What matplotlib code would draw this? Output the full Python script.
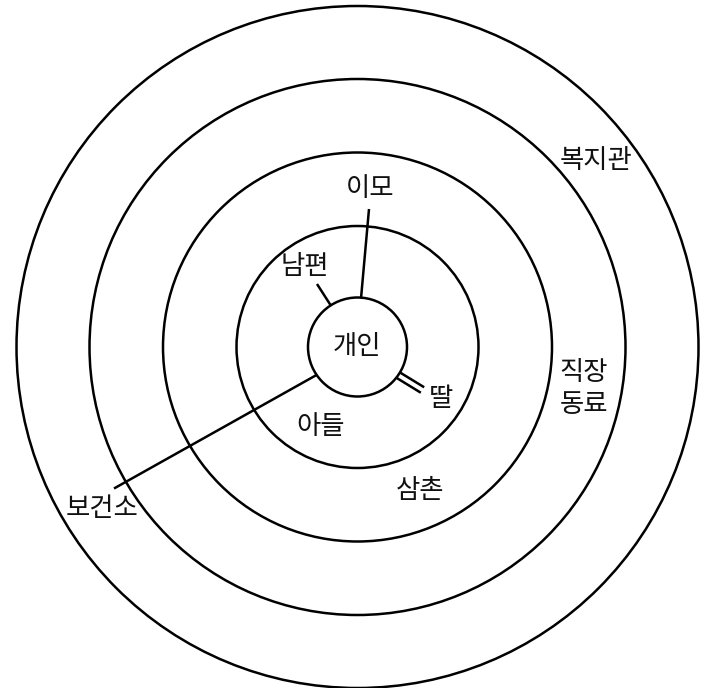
"""Ecomap: concentric relationship circles around the individual (개인)."""

import matplotlib.pyplot as plt
from matplotlib.patches import Circle
import numpy as np

plt.rcParams['font.family'] = ['Noto Sans CJK KR', 'DejaVu Sans']

# ring radii in pixels (innermost = 개인)
ring_radii = [49.5, 121, 194.5, 268, 341]
center = (357.5, 347)

labels = ["개인", "남편", "이모", "딸", "아들", "삼촌", "복지관", "직장", "동료", "보건소"]
label_xy = [(356.5, 347), (305, 266), (370.5, 189), (441, 398), (320.5, 426),
            (420, 490), (596, 160), (583.5, 373), (583.5, 404), (102, 508)]

# connection lines: (target, start, end, kind)
links = ["이모", "남편", "딸", "보건소"]
link_start = [(361, 298.5), (330.5, 305), (398, 375), (316.5, 375)]
link_end = [(369, 209), (317, 284), (422.5, 390), (114, 488.5)]
link_kind = ["single", "single", "double", "single"]

LW = 1.8


def main():
    fig = plt.figure(figsize=(7.14, 6.88), dpi=100)
    ax = fig.add_axes([0, 0, 1, 1])
    ax.set_xlim(0, 714)
    ax.set_ylim(688, 0)
    ax.set_aspect("equal")
    ax.axis("off")

    for r in ring_radii:
        ax.add_patch(Circle(center, r, fill=False, edgecolor="black", linewidth=LW))

    for (x0, y0), (x1, y1), kind in zip(link_start, link_end, link_kind):
        if kind == "double":
            d = np.array([x1 - x0, y1 - y0])
            n = np.array([-d[1], d[0]]) / np.hypot(*d) * 3.2
            for s in (-1, 1):
                ax.plot([x0 + s * n[0], x1 + s * n[0]], [y0 + s * n[1], y1 + s * n[1]],
                        color="black", linewidth=LW, solid_capstyle="butt")
        else:
            ax.plot([x0, x1], [y0, y1], color="black", linewidth=LW,
                    solid_capstyle="butt")

    for name, (x, y) in zip(labels, label_xy):
        ax.text(x, y, name, ha="center", va="center", fontsize=19, color="#111111")

    fig.savefig("out.png", dpi=100)


if __name__ == "__main__":
    main()
